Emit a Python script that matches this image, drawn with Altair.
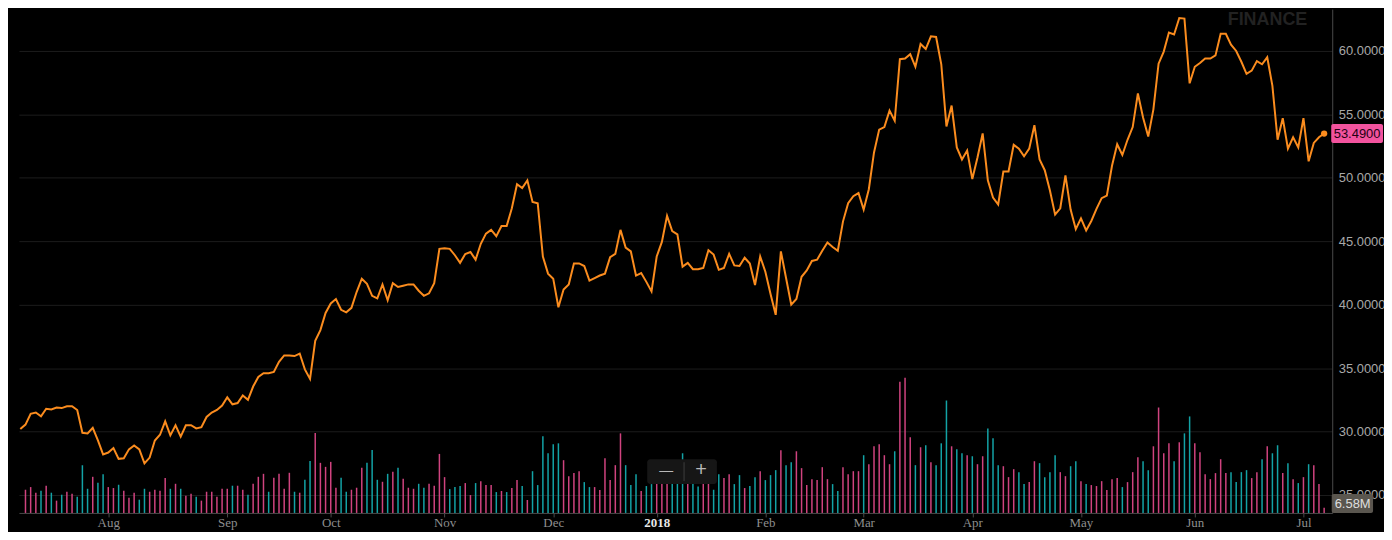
import altair as alt
import pandas as pd

# ---------------- data ----------------
# closing price per trading day; first value is the (clipped) day before the window
close = [
    30.2,
    30.55, 31.4, 31.5, 31.2, 31.8, 31.75, 31.9, 31.85, 32.0, 32.0,
    31.7, 29.9, 29.85, 30.3, 29.3, 28.2, 28.35, 28.7, 27.85, 27.9,
    28.6, 28.9, 28.6, 27.5, 27.95, 29.3, 29.75, 30.8, 29.7, 30.5,
    29.6, 30.5, 30.5, 30.25, 30.35, 31.15, 31.5, 31.7, 32.05, 32.7,
    32.15, 32.25, 32.85, 32.5, 33.55, 34.3, 34.6, 34.6, 34.7, 35.5,
    36.0, 36.0, 35.95, 36.15, 34.9, 34.15, 37.15, 38.0, 39.35, 40.1,
    40.45, 39.6, 39.4, 39.75, 41.0, 42.05, 41.65, 40.7, 40.5, 41.6,
    40.35, 41.7, 41.4, 41.5, 41.6, 41.6, 41.1, 40.7, 40.9, 41.7,
    44.4, 44.45, 44.4, 43.9, 43.3, 44.0, 44.15, 43.55, 44.8, 45.6,
    45.9, 45.4, 46.2, 46.2, 47.6, 49.5, 49.2, 49.8, 48.1, 48.0,
    43.8, 42.45, 42.05, 39.8, 41.2, 41.6, 43.25, 43.25, 43.05, 41.9,
    42.1, 42.3, 42.45, 43.75, 44.0, 45.9, 44.5, 44.2, 42.3, 42.5,
    41.8, 41.05, 43.8, 44.95, 47.0, 45.8, 45.55, 43.0, 43.3, 42.8,
    42.8, 42.9, 44.3, 43.95, 42.75, 42.9, 44.0, 43.1, 43.05, 43.7,
    43.25, 41.55, 43.8, 42.6, 40.85, 39.2, 44.2, 42.1, 40.0, 40.45,
    42.2, 42.7, 43.45, 43.55, 44.25, 44.9, 44.55, 44.25, 46.55, 48.0,
    48.55, 48.8, 47.5, 49.1, 52.0, 53.8, 54.0, 55.3, 54.5, 59.35,
    59.4, 59.75, 58.75, 60.55, 60.15, 61.15, 61.1, 58.95, 54.05, 55.7,
    52.4, 51.45, 52.15, 49.9, 51.6, 53.5, 49.8, 48.45, 47.9, 50.5,
    50.5, 52.6, 52.3, 51.7, 52.3, 54.15, 51.45, 50.6, 49.0, 47.1,
    47.6, 50.2, 47.5, 45.95, 46.8, 45.85, 46.6, 47.55, 48.4, 48.6,
    50.95, 52.65, 51.8, 53.0, 54.0, 56.65, 54.75, 53.25, 55.4, 59.0,
    59.95, 61.45, 61.3, 62.6, 62.55, 57.45, 58.75, 59.05, 59.4, 59.4,
    59.65, 61.35, 61.35, 60.5, 60.0, 59.15, 58.2, 58.45, 59.2, 58.95,
    59.5, 57.25, 53.0, 54.7, 52.3, 53.2, 52.4, 54.7, 51.3, 52.75,
    53.2, 53.49,
]

# daily volume, millions of shares
volume = [
    28.9, 32.2, 25.2, 27.7, 33.9, 25.2, 15.3, 22.7, 26.4, 24.0,
    20.2, 59.5, 30.1, 45.0, 37.6, 48.3, 32.2, 31.0, 35.1, 27.7,
    19.0, 25.2, 16.5, 30.1, 26.4, 28.9, 27.7, 43.4, 30.1, 36.3,
    30.1, 21.5, 24.0, 20.2, 15.3, 26.4, 26.4, 20.2, 30.1, 30.1,
    33.9, 33.9, 28.9, 22.7, 36.3, 45.0, 48.7, 26.4, 43.8, 48.7,
    30.1, 50.0, 26.4, 25.2, 41.3, 64.8, 99.5, 62.4, 57.4, 63.6,
    31.4, 43.8, 26.4, 28.9, 31.4, 56.2, 62.4, 78.5, 41.3, 38.8,
    48.7, 51.2, 56.2, 42.5, 31.4, 30.1, 36.3, 31.4, 36.3, 33.9,
    73.5, 44.6, 29.7, 32.2, 33.5, 37.2, 22.3, 37.2, 39.6, 34.7,
    34.7, 26.0, 27.3, 26.0, 31.0, 40.9, 33.5, 16.1, 52.0, 34.7,
    95.4, 74.3, 85.5, 86.7, 65.7, 45.8, 49.6, 52.0, 38.4, 32.2,
    32.2, 28.5, 68.1, 40.9, 59.5, 99.1, 59.5, 34.7, 48.3, 27.3,
    33.5, 35.9, 46.3, 48.3, 54.5, 46.3, 46.3, 74.3, 50.4, 42.1,
    33.0, 42.1, 38.0, 28.9, 48.3, 43.4, 48.3, 35.9, 47.1, 31.0,
    33.5, 44.6, 52.0, 40.9, 47.1, 53.3, 78.1, 59.5, 63.2, 76.8,
    55.8, 34.7, 42.1, 40.9, 57.0, 42.1, 35.9, 27.3, 57.0, 48.3,
    52.0, 52.0, 71.9, 60.7, 83.0, 85.5, 71.9, 60.7, 76.8, 163.5,
    168.5, 94.2, 59.5, 81.8, 84.3, 63.2, 59.5, 86.7, 140.0, 83.0,
    79.3, 74.3, 71.9, 70.6, 60.7, 70.6, 105.3, 92.9, 59.5, 58.2,
    44.6, 54.5, 50.8, 35.9, 38.4, 64.4, 62.0, 44.6, 50.8, 71.9,
    50.8, 45.8, 58.2, 64.4, 39.6, 35.9, 34.7, 33.5, 39.6, 28.5,
    42.1, 43.4, 32.2, 38.4, 50.8, 69.4, 64.4, 53.3, 83.0, 131.3,
    74.3, 86.7, 64.4, 88.0, 99.1, 120.2, 86.7, 75.6, 48.3, 42.1,
    49.6, 66.9, 49.6, 50.8, 38.4, 50.8, 53.3, 43.4, 50.8, 66.9,
    83.0, 74.3, 84.3, 49.6, 62.0, 42.1, 37.2, 44.6, 60.7, 59.5,
    35.9, 6.58,
]

# bar colour per day: u = up (teal), d = down (pink)
direction_groups = [
    "dddudududd", "uuuduuddud", "dduuddddud", "uddudddddd",
    "uddudddudd", "dduduudddd", "duuddduuud", "ududdduudd",
    "dduuuddudd", "dududduduu", "uuuudddduu", "dddddduuud",
    "uuddduuudu", "udduudduud", "uuduuuduud", "dddddduudd",
    "ddudddddud", "ddududuuud", "uududduuud", "dduudduuuu",
    "dduududddd", "dduddduudd", "dduduudddd", "ddduuuuddu",
    "duudududud", "dd",
]

month_ticks = [16, 39, 59, 81, 102, 122, 143, 162, 183, 204, 226, 247]
month_labels = ["Aug", "Sep", "Oct", "Nov", "Dec", "2018",
                "Feb", "Mar", "Apr", "May", "Jun", "Jul"]
price_ticks = [25, 30, 35, 40, 45, 50, 55, 60]

# ---------------- tables ----------------
directions = list("".join(direction_groups))
price_df = pd.DataFrame({"i": list(range(-1, len(close) - 1)), "p": close})
vol_df = pd.DataFrame({"i": list(range(len(volume))), "v": volume, "dir": directions})
last_df = price_df.tail(1)
lastvol_df = vol_df.tail(1)
one = pd.DataFrame({"a": [0]})

ORANGE = "#fb8c1e"
PINK = "#d0437f"
TEAL = "#13a3a6"

W, H = 1319, 506

xscale = alt.Scale(domain=[-0.3, 251.6], nice=False, zero=False)
pscale = alt.Scale(domain=[23.587, 63.296], nice=False, zero=False)
vscale = alt.Scale(domain=[0, 627.4], nice=False)

lab_arr = "[" + ",".join("'%s'" % m for m in month_labels) + "]"
idx_arr = "[" + ",".join(str(v) for v in month_ticks) + "]"
year_test = "datum.value == %d" % month_ticks[month_labels.index("2018")]

xaxis = alt.Axis(
    values=month_ticks,
    labelExpr="%s[indexof(%s, datum.value)]" % (lab_arr, idx_arr),
    title=None, grid=False,
    domainColor="#4a4a4a", tickColor="#4a4a4a", tickSize=4,
    labelFont="Liberation Serif", labelFontSize=13,
    labelColor={"condition": {"test": year_test, "value": "#e8e8e8"}, "value": "#8e8e8e"},
    labelFontWeight={"condition": {"test": year_test, "value": "bold"}, "value": "normal"},
    labelPadding=0, labelOverlap=False, labelFlush=False,
)
yaxis = alt.Axis(
    orient="right", values=price_ticks, format=".4f", title=None,
    grid=True, gridColor="#1c1c1c", gridWidth=1,
    domainColor="#4a4a4a", ticks=False,
    labelFont="Liberation Sans", labelFontSize=13, labelColor="#a8a8a8",
    labelPadding=6, zindex=0,
)

X = alt.X("i:Q", scale=xscale, axis=xaxis)

bars = alt.Chart(vol_df).mark_bar(size=1.5).encode(
    x=X,
    y=alt.Y("v:Q", scale=vscale, axis=None),
    color=alt.Color("dir:N", scale=alt.Scale(domain=["u", "d"], range=[TEAL, PINK]), legend=None),
)

line = alt.Chart(price_df).mark_line(color=ORANGE, strokeWidth=2, clip=True).encode(
    x=X,
    y=alt.Y("p:Q", scale=pscale, axis=yaxis),
)

dot = alt.Chart(last_df).mark_circle(size=40, color=ORANGE, opacity=1).encode(
    x=X,
    y=alt.Y("p:Q", scale=pscale, axis=None),
)

last_box = alt.Chart(last_df).mark_rect(
    color="#f2539e", yOffset=-9.5, y2Offset=9.5, cornerRadius=2
).encode(
    x=alt.value(1318), x2=alt.value(1370),
    y=alt.Y("p:Q", scale=pscale, axis=None), y2="p",
)
last_txt = alt.Chart(last_df).mark_text(
    font="Liberation Sans", fontSize=13, color="#230012", align="center", baseline="middle"
).encode(
    x=alt.value(1344),
    y=alt.Y("p:Q", scale=pscale, axis=None),
    text=alt.Text("p:Q", format=".4f"),
)

vol_box = alt.Chart(lastvol_df).mark_rect(color="#5a564f", cornerRadius=2).encode(
    x=alt.value(1318.5), x2=alt.value(1360), y=alt.value(487), y2=alt.value(506),
)
vol_txt = alt.Chart(lastvol_df).transform_calculate(
    lab="format(datum.v, '.2f') + 'M'"
).mark_text(
    font="Liberation Sans", fontSize=13, color="#dedede", align="center", baseline="middle"
).encode(x=alt.value(1339.5), y=alt.value(497), text="lab:N")

ctrl_box = alt.Chart(one).mark_rect(color="#161616", cornerRadius=3).encode(
    x=alt.value(631), x2=alt.value(701), y=alt.value(452), y2=alt.value(477),
)
ctrl_sep = alt.Chart(one).mark_rule(color="#3c3c3c", strokeWidth=1).encode(
    x=alt.value(668), y=alt.value(455), y2=alt.value(474),
)
ctrl_minus = alt.Chart(one).mark_text(
    text="\u2014", font="Liberation Sans", fontSize=14, color="#b8b8b8", align="center", baseline="middle"
).encode(x=alt.value(650), y=alt.value(464))
ctrl_plus = alt.Chart(one).mark_text(
    text="+", font="Liberation Sans", fontSize=20, color="#b8b8b8", align="center", baseline="middle"
).encode(x=alt.value(685), y=alt.value(463))

watermark = alt.Chart(one).mark_text(
    text="FINANCE", font="Liberation Sans", fontSize=18, fontWeight="bold",
    color="#222222", align="center", baseline="middle"
).encode(x=alt.value(1254), y=alt.value(11))

chart = alt.layer(
    bars, line, dot, last_box, last_txt, vol_box, vol_txt,
    ctrl_box, ctrl_sep, ctrl_minus, ctrl_plus, watermark,
).resolve_scale(y="independent").properties(
    width=W, height=H, background="#000000",
    padding={"left": 11, "top": 0, "right": 52, "bottom": 18},
    autosize=alt.AutoSizeParams(type="none"),
).configure_view(stroke=None)

chart.save("out.html", embed_options={"renderer": "svg", "actions": False})
